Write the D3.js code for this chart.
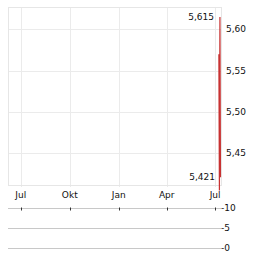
<!DOCTYPE html>
<html lang="de">
<head>
<meta charset="UTF-8">
<script src="https://d3js.org/d3.v7.min.js"></script>
<style>
  body { margin: 0; background: #fff; font-family: "DejaVu Sans", Verdana, sans-serif; }
  svg text { font-size: 9px; fill: #111; }
</style>
</head>
<body>
<svg id="chart" width="264" height="255"></svg>
<script>
// price data (close)
const dates = ["2025-07-08", "2025-07-09", "2025-07-10", "2025-07-11"];
const prices = [5.57, 5.405, 5.615, 5.421];
const priceTicks = [5.45, 5.50, 5.55, 5.60];
const monthTicks = ["2024-07-01", "2024-10-01", "2025-01-01", "2025-04-01", "2025-07-01"];
const monthLabels = ["Jul", "Okt", "Jan", "Apr", "Jul"];
const volTicks = [0, 5, 10];
const hiLabel = "5,615";
const loLabel = "5,421";

const parse = d3.timeParse("%Y-%m-%d");
const svg = d3.select("#chart");
const plot = { left: 8, right: 221, top: 7, bottom: 185 };

const x = d3.scaleTime()
  .domain([parse("2024-06-07"), parse("2025-07-12")])
  .range([plot.left, plot.right]);
const y = d3.scaleLinear()
  .domain([5.4117, 5.627])
  .range([plot.bottom, plot.top]);
const yVol = d3.scaleLinear().domain([0, 10]).range([247.5, 207.5]);

const fmt = d3.formatLocale({ decimal: ",", thousands: ".", grouping: [3], currency: ["", "€"] });

// grid
const grid = svg.append("g").attr("stroke", "#ebebeb").attr("stroke-width", 1);
grid.selectAll(".h").data(priceTicks).join("line")
  .attr("x1", plot.left).attr("x2", plot.right)
  .attr("y1", d => Math.round(y(d)) + 0.5).attr("y2", d => Math.round(y(d)) + 0.5);
grid.selectAll(".v").data(monthTicks).join("line")
  .attr("x1", d => Math.round(x(parse(d))) + 0.5).attr("x2", d => Math.round(x(parse(d))) + 0.5)
  .attr("y1", plot.top).attr("y2", plot.bottom + 2);
svg.append("rect")
  .attr("x", plot.left + 0.5).attr("y", plot.top + 0.5)
  .attr("width", plot.right - plot.left).attr("height", plot.bottom - plot.top)
  .attr("fill", "none").attr("stroke", "#e6e6e6");

// right price axis
svg.append("g").selectAll("text").data(priceTicks).join("text")
  .attr("x", 226).attr("y", d => y(d)).attr("dy", "0.35em")
  .text(d => fmt.format(".2f")(d));

// month labels
svg.append("g").selectAll("text").data(monthTicks).join("text")
  .attr("x", d => x(parse(d))).attr("y", 195).attr("dy", "0.35em")
  .attr("text-anchor", "middle")
  .text((d, i) => monthLabels[i]);

// price line
const line = d3.line()
  .x((d, i) => x(parse(dates[i])))
  .y(d => y(d));
svg.append("path").datum(prices)
  .attr("d", line)
  .attr("fill", "none").attr("stroke", "#c83232").attr("stroke-width", 1.2);

// hi / lo labels
const iHi = prices.indexOf(d3.max(prices));
svg.append("text").attr("x", 214).attr("y", y(prices[iHi])).attr("dy", "0.35em")
  .attr("text-anchor", "end").text(hiLabel);
svg.append("text").attr("x", 215).attr("y", y(prices[3])).attr("dy", "0.35em")
  .attr("text-anchor", "end").text(loLabel);

// volume panel
const vol = svg.append("g");
vol.selectAll("line").data(volTicks).join("line")
  .attr("x1", plot.left).attr("x2", 221)
  .attr("y1", d => Math.round(yVol(d)) + 0.5).attr("y2", d => Math.round(yVol(d)) + 0.5)
  .attr("stroke", "#c8c8c8");
vol.selectAll("text").data(volTicks).join("text")
  .attr("x", 221).attr("y", d => yVol(d)).attr("dy", "0.35em")
  .text(d => "-" + d);
vol.selectAll(".tk").data(monthTicks).join("line")
  .attr("x1", d => Math.round(x(parse(d))) + 0.5).attr("x2", d => Math.round(x(parse(d))) + 0.5)
  .attr("y1", yVol(10)).attr("y2", yVol(10) + 3)
  .attr("stroke", "#333");
</script>
</body>
</html>
